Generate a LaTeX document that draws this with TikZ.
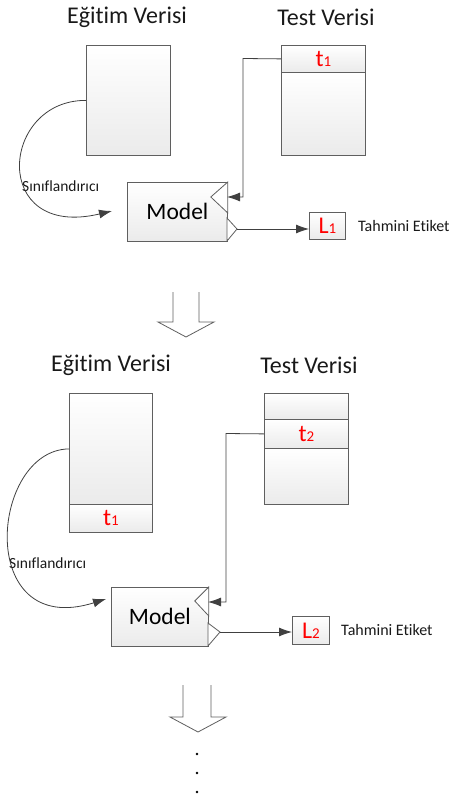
\documentclass[tikz,border=0pt]{standalone}
\usepackage{fontspec}
\setmainfont[Ligatures=NoCommon]{Carlito}
\usetikzlibrary{arrows.meta}
\definecolor{edgec}{HTML}{5F5F5F}
\definecolor{connc}{HTML}{404040}
\definecolor{labred}{HTML}{FF0000}
\newcommand{\lab}[2]{\textcolor{labred}{{\fontsize{24}{24}\selectfont #1}{\fontsize{15}{15}\selectfont #2}}}
\begin{document}
\begin{tikzpicture}[x=1pt,y=-1pt,
  box/.style={draw=edgec, line width=0.8pt, top color=white, bottom color=black!8, inner sep=0pt, anchor=north west},
  title/.style={font=\fontsize{24}{24}\selectfont, text=black!90},
  small/.style={font=\fontsize{16}{16}\selectfont, text=black!90, anchor=west, inner sep=0pt},
  modeltxt/.style={box, font=\fontsize{23.5}{23.5}\selectfont},
  conn/.style={draw=connc, line width=0.8pt},
  arr/.style={conn, -{Latex[length=13pt,width=9pt]}},
  port/.style={draw=edgec, line width=0.8pt, fill=white},
  bigarrow/.style={draw=edgec, line width=0.8pt, fill=white, line join=miter}
]
\useasboundingbox (0,0) rectangle (450,802);

% ---------- first stage ----------
\node[title] (tt1) at (127,17) {Eğitim Verisi};
\node[title] (ts1) at (326,17) {Test Verisi};

\node[box, minimum width=84pt, minimum height=110pt] (train1) at (86,45) {};
\node[box, minimum width=84pt, minimum height=27pt] (test1h) at (281,45) {\lab{t}{1}};
\node[box, minimum width=84pt, minimum height=83pt] (test1b) at (281,72) {};

\node[modeltxt, minimum width=100pt, minimum height=59pt] (model1) at (127,182) {Model};
\filldraw[port] (model1.north east) -- ++(-17,15) -- ++(17,16) -- cycle;
\coordinate (m1in) at (227,197);
\filldraw[port] (227,218) -- (237,229) -- (227,241) -- cycle;
\coordinate (m1out) at (237,229);

\node[box, minimum width=36pt, minimum height=27pt] (L1) at (309,212) {\lab{L}{1}};
\node[small] (te1) at (358,226) {Tahmini Etiket};
\node[small, font=\fontsize{15.5}{15.5}\selectfont] (sc1) at (22,186) {Sınıflandırıcı};

\draw[arr] (test1h.west) -- (243,58.5) |- (m1in);
\draw[arr] (m1out) -- (m1out -| L1.west);
\draw[arr] (train1.west) .. controls (0,100) and (-10,240) .. (112,211);

\draw[bigarrow] (173,292) -- (173,322) -- (158,322) -- (186,337) -- (214,322) -- (199,322) -- (199,292);

% ---------- second stage ----------
\node[title] (tt2) at (111,365) {Eğitim Verisi};
\node[title] (ts2) at (309,365) {Test Verisi};

\node[box, minimum width=83pt, minimum height=111pt] (train2) at (69,393) {};
\node[box, minimum width=83pt, minimum height=28pt] (train2r) at (69,504) {\lab{t}{1}};

\node[box, minimum width=84pt, minimum height=26pt] (test2a) at (264,393) {};
\node[box, minimum width=84pt, minimum height=29pt] (test2b) at (264,419) {\lab{t}{2}};
\node[box, minimum width=84pt, minimum height=56pt] (test2c) at (264,448) {};

\node[modeltxt, minimum width=97pt, minimum height=59pt] (model2) at (111,587) {Model};
\filldraw[port] (model2.north east) -- ++(-14,14) -- ++(14,15) -- cycle;
\coordinate (m2in) at (208,602);
\filldraw[port] (208,623) -- (220,632) -- (208,646) -- cycle;
\coordinate (m2out) at (220,632);

\node[box, minimum width=37pt, minimum height=28pt] (L2) at (292,616) {\lab{L}{2}};
\node[small] (te2) at (341,630) {Tahmini Etiket};
\node[small, font=\fontsize{15.5}{15.5}\selectfont] (sc2) at (9,563) {Sınıflandırıcı};

\draw[arr] (test2b.west) -- (226,433.5) |- (m2in);
\draw[arr] (m2out) -- (m2out -| L2.west);
\draw[arr] (train2.west) .. controls (-10,450) and (-25,640) .. (106,599);

\draw[bigarrow] (183,685) -- (183,717) -- (170,717) -- (198,732) -- (226,717) -- (211,717) -- (211,685);

\fill[black] (197,754) circle (1.3) (197,773) circle (1.3) (197,792) circle (1.3);
\end{tikzpicture}
\end{document}
